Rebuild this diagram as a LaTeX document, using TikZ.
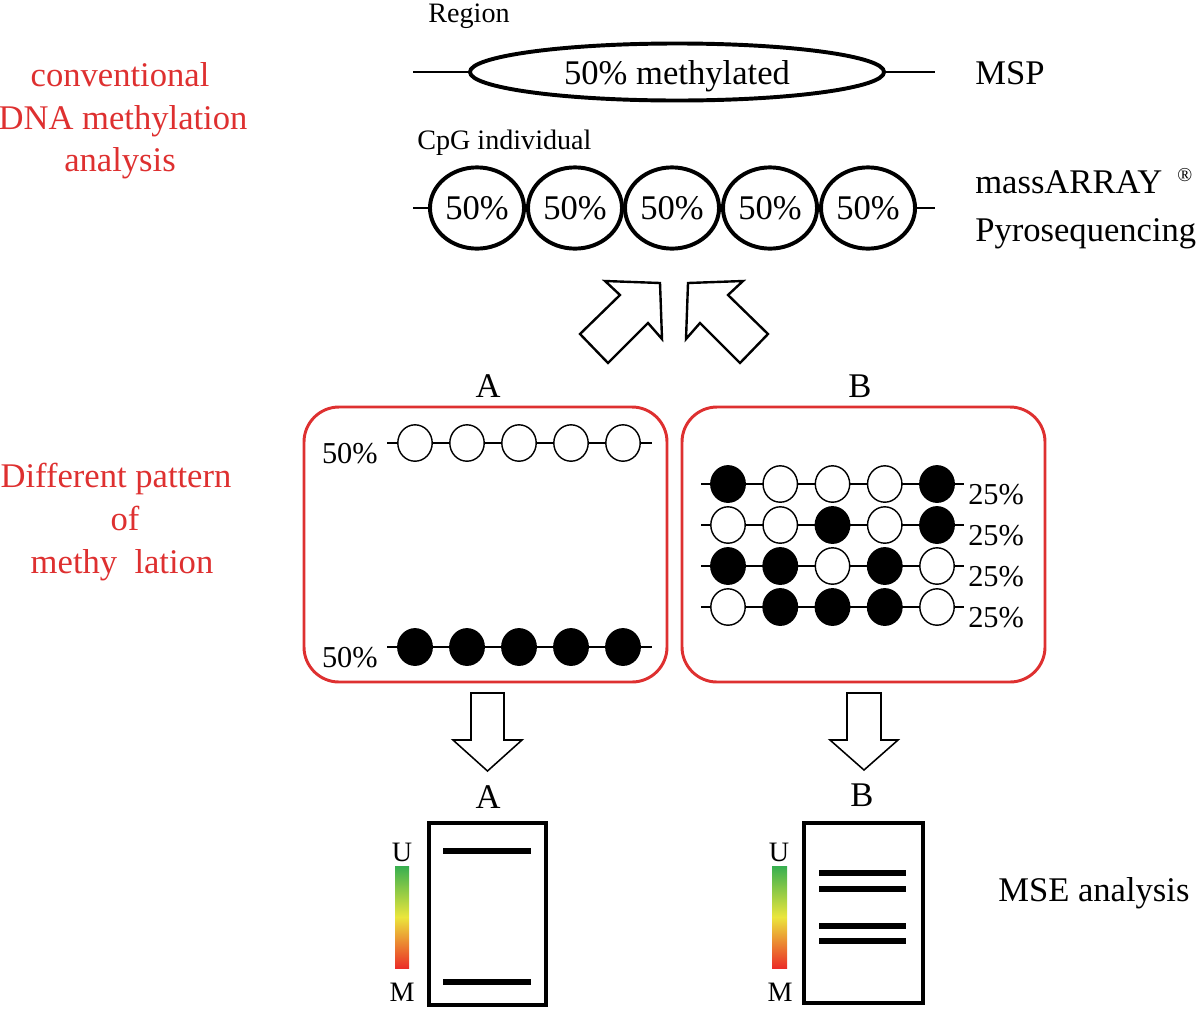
\documentclass[tikz,border=0pt]{standalone}
\usepackage{fontspec}
\setmainfont{Liberation Serif}
\usetikzlibrary{shapes.geometric}
\definecolor{boxred}{RGB}{222,48,48}
\definecolor{gelgreen}{RGB}{55,175,80}
\definecolor{gelyellow}{RGB}{235,230,60}
\definecolor{gelred}{RGB}{235,45,40}
\colorlet{M}{black}
\colorlet{U}{white}
\begin{document}
\begin{tikzpicture}[x=0.025cm,y=-0.025cm,
  lbl/.style={anchor=base,inner sep=0pt,font=\fontsize{24.6}{29}\selectfont},
  small/.style={anchor=base,inner sep=0pt,font=\fontsize{20}{24}\selectfont},
  pct/.style={anchor=base,inner sep=0pt,font=\fontsize{21.6}{26}\selectfont},
  side/.style={lbl,text=boxred},
  bigcpg/.style={ellipse,draw,line width=2.8pt,fill=white,minimum width=2.35cm,
    minimum height=2.03cm,inner sep=0pt,font=\fontsize{24.6}{29}\selectfont},
  cpg/.style={ellipse,draw,line width=1pt,minimum width=0.86cm,minimum height=0.91cm,inner sep=0pt},
  strand/.style={line width=2pt},
  thinstrand/.style={line width=1.3pt},
  panel/.style={draw=boxred,line width=2.1pt,rounded corners=0.875cm},
  openarrow/.style={draw,line width=1.7pt,line join=miter,fill=white},
  downarrow/.style={draw,line width=1.1pt,line join=miter,fill=white},
  gel/.style={draw,line width=2.5pt},
  band/.style={line width=4.2pt},
  scale bar/.style={top color=gelgreen,bottom color=gelred,middle color=gelyellow}]
  \useasboundingbox (0,0) rectangle (1200,1027);

  % Side captions
  \node[side] (conv1) at (120,86) {conventional};
  \node[side] (conv2) at (123,129) {DNA methylation};
  \node[side] (conv3) at (120,171) {analysis};
  \node[side] (diff1) at (116,487) {Different pattern};
  \node[side] (diff2) at (125,530) {of};
  \node[side] (diff3) at (122,573) {methy\ \ lation};

  % Region level (MSP)
  \node[small] (regtxt) at (469,22) {Region};
  \coordinate (rl) at (413,72);
  \coordinate (rr) at (935,72);
  \node[ellipse,draw,line width=2.8pt,minimum width=10.35cm,minimum height=1.425cm,
    inner sep=0pt,text depth=0pt,font=\fontsize{24.6}{29}\selectfont] (region) at (677,72) {50\% methylated};
  \draw[strand] (rl) -- (region.west);
  \draw[strand] (region.east) -- (rr);
  \node[lbl,anchor=base west] (msp) at (975,84) {MSP};

  % Individual CpG level
  \node[small,anchor=base west] (cpgtxt) at (417,149) {CpG individual};
  \coordinate (cl) at (413,208);
  \coordinate (cr) at (935,208);
  \draw[strand] (cl) -- (cr);
  \foreach \x [count=\i] in {477,575,672,770,868}
    \node[bigcpg] (c\i) at (\x,208) {50\%};
  \node[lbl,anchor=base west] (mass) at (975,193) {massARRAY};
  \node[anchor=base west,inner sep=0pt,font=\fontsize{14}{16}\selectfont] (reg) at (1177,181) {®};
  \node[lbl,anchor=base west] (pyro) at (975,241) {Pyrosequencing};

  % Open arrows
  \draw[openarrow] (660,283) -- (605,281) -- (620,295) -- (580,334) -- (608,363)
    -- (648,323) -- (662,339) -- cycle;
  \draw[openarrow] (688,283) -- (743,281) -- (728,295) -- (768,334) -- (740,363)
    -- (700,323) -- (686,339) -- cycle;

  % Pattern A
  \node[lbl] (la) at (488,397) {A};
  \draw[panel] (304,407) rectangle (667,682);
  \foreach \y/\c [count=\r] in {443/U,647/M} {
    \coordinate (al\r) at (387,\y);
    \coordinate (ar\r) at (652,\y);
    \draw[thinstrand] (al\r) -- (ar\r);
    \foreach \j in {0,...,4}
      \node[cpg,fill=\c] (a\r\j) at ({415+52*\j},\y) {};
    \node[pct,anchor=base east] (ap\r) at (378,{\y+20}) {50\%};
  }

  % Pattern B
  \node[lbl] (lb) at (860,397) {B};
  \draw[panel] (682,407) rectangle (1045,682);
  \foreach \y/\pat [count=\r] in {484/{M,U,U,U,M},525/{U,U,M,U,M},566/{M,M,U,M,U},607/{U,M,M,M,U}} {
    \coordinate (bl\r) at (701,\y);
    \coordinate (br\r) at (964,\y);
    \draw[thinstrand] (bl\r) -- (br\r);
    \foreach \c [count=\j from 0] in \pat
      \node[cpg,fill=\c] (b\r\j) at ({728+52.25*\j},\y) {};
    \node[pct,anchor=base west] (bp\r) at (968,{\y+20}) {25\%};
  }

  % Down arrows
  \draw[downarrow] (471,693) -- (504,693) -- (504,740) -- (522,740) -- (487.5,771)
    -- (453,740) -- (471,740) -- cycle;
  \draw[downarrow] (847,693) -- (881,693) -- (881,740) -- (898,740) -- (864,770)
    -- (830,740) -- (847,740) -- cycle;

  % MSE gel A
  \node[lbl] (ga) at (488,808) {A};
  \draw[gel] (429,823) rectangle (546,1005);
  \draw[band] (443,851) -- (531,851);
  \draw[band] (443,982) -- (531,982);
  \shade[scale bar] (395,866) rectangle (409,968);
  \node[small] (ua) at (402,861) {U};
  \node[small] (ma) at (402,1001) {M};

  % MSE gel B
  \node[lbl] (gb) at (862,806) {B};
  \draw[gel] (804,823) rectangle (923,1003);
  \foreach \y in {873,889,926,941}
    \draw[band] (819,\y) -- (906,\y);
  \shade[scale bar] (772,866) rectangle (787,968);
  \node[small] (ub) at (779,861) {U};
  \node[small] (mb) at (780,1001) {M};

  \node[lbl,anchor=base west] (mse) at (998,901) {MSE analysis};
\end{tikzpicture}
\end{document}
